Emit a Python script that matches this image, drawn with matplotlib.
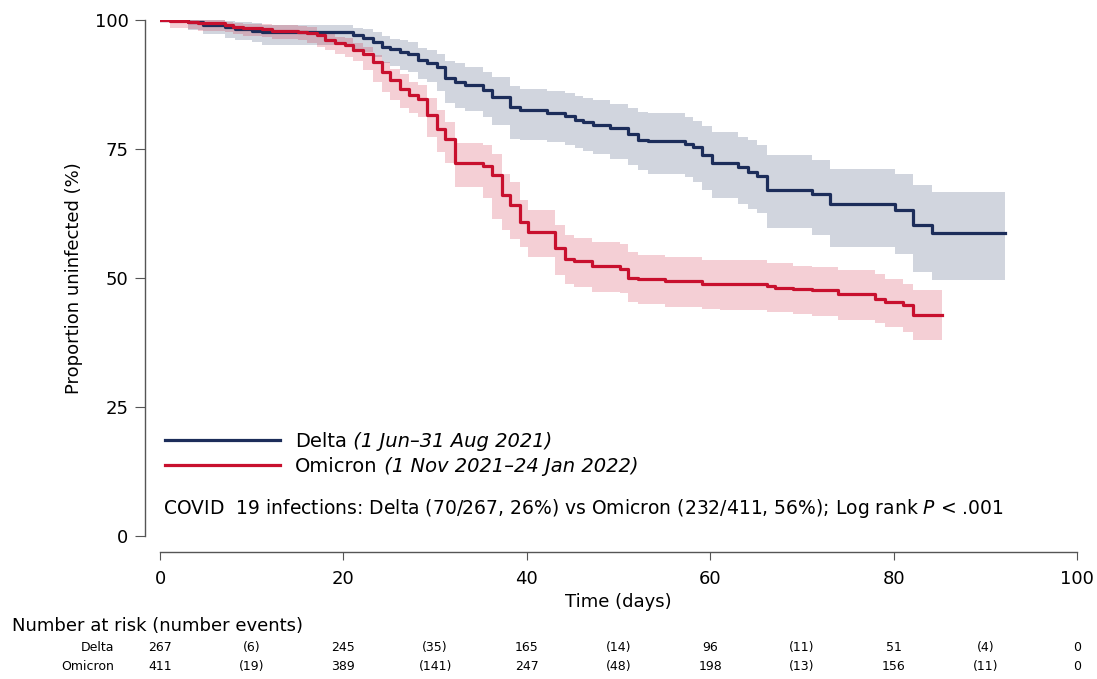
import numpy as np
import matplotlib
matplotlib.use('Agg')
import matplotlib.pyplot as plt
import matplotlib.transforms as mtransforms

plt.rcParams['font.family'] = ['DejaVu Sans']
plt.rcParams['mathtext.fontset'] = 'custom'
plt.rcParams['mathtext.rm'] = 'DejaVu Sans'
plt.rcParams['mathtext.it'] = 'DejaVu Sans:italic'

# Kaplan-Meier steps (days, % uninfected, 95% CI)
delta_t = [0, 3.05, 4.7, 7.1, 8.2, 10.0, 11.1, 21.0, 22.1, 23.2, 24.2, 25.1, 26.2, 27.0, 28.1,
           29.1, 30.2, 31.1, 32.2, 33.3, 35.2, 36.2, 38.2, 39.3, 42.2, 44.2, 45.3, 46.1, 47.2,
           49.1, 51.0, 52.1, 53.2, 57.3, 58.1, 59.1, 60.2, 63.0, 64.1, 65.1, 66.2, 71.1, 73.1,
           80.2, 82.1, 84.2]
delta_s = [100, 99.7, 99.0, 98.6, 98.3, 97.9, 97.6, 97.1, 96.6, 95.8, 94.8, 94.3, 93.8, 93.5, 92.2,
           91.7, 90.9, 88.7, 87.9, 87.4, 86.4, 85.0, 83.1, 82.5, 82.0, 81.4, 80.7, 80.2, 79.6,
           79.0, 77.9, 76.8, 76.5, 75.9, 75.3, 73.8, 72.2, 71.5, 70.5, 69.8, 67.1, 66.3, 64.3,
           63.1, 60.2, 58.7]
delta_lo = [100, 98.1, 97.3, 96.6, 96.1, 95.7, 95.1, 94.4, 93.8, 92.8, 91.6, 91.0, 90.4, 90.0, 88.5,
            87.9, 86.3, 83.9, 83.0, 82.4, 81.2, 79.6, 77.0, 76.8, 76.4, 75.7, 75.1, 74.6, 74.1,
            73.1, 71.8, 70.9, 70.2, 69.6, 68.6, 67.0, 65.4, 64.4, 63.4, 62.5, 59.6, 58.3, 56.0,
            54.6, 51.1, 49.5]
delta_hi = [100, 100, 100, 99.8, 99.7, 99.4, 99.0, 98.5, 98.2, 97.7, 96.9, 96.3, 96.1, 95.8, 94.5,
            94.1, 93.5, 92.1, 91.7, 90.9, 90.0, 88.9, 87.2, 86.7, 86.3, 85.8, 85.2, 84.8, 84.5,
            83.8, 82.9, 82.2, 81.9, 81.2, 80.4, 79.4, 78.3, 77.3, 76.7, 75.7, 73.8, 72.8, 71.2,
            70.2, 68.0, 66.7]
delta_end = 92.1

omi_t = [0, 1.1, 3.05, 4.1, 7.1, 8.0, 9.1, 11.1, 12.2, 15.0, 16.0, 17.1, 18.0, 19.1, 20.2, 21.0,
         22.1, 23.2, 24.2, 25.1, 26.2, 27.1, 28.1, 29.1, 30.2, 31.1, 32.2, 35.2, 36.2, 37.3, 38.2,
         39.3, 40.1, 43.1, 44.2, 45.1, 47.1, 50.2, 51.0, 52.1, 55.1, 59.1, 61.1, 66.2, 67.1, 69.0,
         71.1, 73.9, 78.0, 79.1, 81.0, 82.1]
omi_s = [100, 99.8, 99.7, 99.4, 99.0, 98.7, 98.4, 98.2, 97.9, 97.7, 97.4, 97.1, 96.1, 95.5, 95.1, 94.2,
         93.5, 91.9, 90.0, 88.3, 86.7, 85.4, 84.7, 81.6, 78.9, 76.9, 72.2, 71.7, 69.9, 66.0, 64.1,
         60.9, 58.9, 55.7, 53.7, 53.2, 52.3, 51.8, 50.0, 49.8, 49.4, 48.9, 48.8, 48.4, 48.1, 47.8,
         47.6, 46.9, 46.0, 45.4, 44.7, 42.8]
omi_lo = [100, 98.4, 98.2, 97.8, 97.6, 97.3, 97.0, 96.8, 96.4, 96.1, 95.5, 94.8, 94.2, 93.5, 92.9, 92.0,
          90.3, 88.0, 86.1, 84.5, 82.9, 81.9, 81.2, 77.3, 74.4, 72.2, 67.6, 65.4, 61.4, 59.2, 57.5,
          56.0, 54.0, 50.5, 48.9, 48.2, 47.2, 47.0, 45.3, 44.9, 44.3, 44.0, 43.8, 43.4, 43.3, 43.0,
          42.7, 41.9, 41.2, 40.4, 39.5, 38.0]
omi_hi = [100, 100, 100, 100, 99.7, 99.5, 99.3, 99.2, 99.0, 98.8, 98.6, 97.9, 97.3, 96.8, 96.5, 95.5,
          94.8, 93.2, 91.9, 90.6, 89.6, 88.0, 87.4, 84.8, 82.5, 80.3, 76.2, 75.7, 74.1, 70.2, 68.5,
          65.1, 63.2, 60.2, 58.4, 57.7, 56.9, 56.5, 55.0, 54.5, 54.0, 53.5, 53.4, 52.9, 52.8, 52.4,
          52.2, 51.5, 50.7, 49.8, 48.9, 47.7]
omi_end = 85.3

# number at risk / events table
risk_days = [0, 20, 40, 60, 80, 100]
event_days = [10, 30, 50, 70, 90]
delta_risk = [267, 245, 165, 96, 51, 0]
delta_events = [6, 35, 14, 11, 4]
omi_risk = [411, 389, 247, 198, 156, 0]
omi_events = [19, 141, 48, 13, 11]

delta_col = '#1c2d5a'
omi_col = '#c8102e'

fig = plt.figure(figsize=(10.97, 6.79), dpi=100)
ax = fig.add_axes([0.1459, 0.2110, 0.8359, 0.7595])


def ext(t, v, end):
    return np.r_[t, end], np.r_[v, v[-1]]


for t, s, lo, hi, end, col in [(delta_t, delta_s, delta_lo, delta_hi, delta_end, delta_col),
                               (omi_t, omi_s, omi_lo, omi_hi, omi_end, omi_col)]:
    tt, ll = ext(t, lo, end)
    _, hh = ext(t, hi, end)
    ax.fill_between(tt, ll, hh, step='post', color=col, alpha=0.2, linewidth=0)

tt, ss = ext(delta_t, delta_s, delta_end)
l1, = ax.step(tt, ss, where='post', color=delta_col, lw=2.3)
tt, ss = ext(omi_t, omi_s, omi_end)
l2, = ax.step(tt, ss, where='post', color=omi_col, lw=2.3)

ax.set_xlim(0, 100)
ax.set_ylim(0, 100)
ax.set_xticks(range(0, 101, 20))
ax.set_yticks([0, 25, 50, 75, 100])
for side in ['top', 'right']:
    ax.spines[side].set_visible(False)
ax.spines['left'].set_position(('outward', 10.8))
ax.spines['bottom'].set_position(('outward', 11.5))
for side in ['left', 'bottom']:
    ax.spines[side].set_color('#555555')
    ax.spines[side].set_linewidth(1)
ax.tick_params(axis='y', direction='out', length=7, width=0.8, color='#555555', labelsize=13, pad=5)
ax.tick_params(axis='x', direction='out', length=6, width=0.8, color='#555555', labelsize=13, pad=7)
ax.set_ylabel('Proportion uninfected (%)', fontsize=13, labelpad=8)
ax.set_xlabel('Time (days)', fontsize=13, labelpad=4)

leg = ax.legend([l1, l2], ['Delta', 'Omicron'],
                loc='upper left', bbox_to_anchor=(0.0055, 0.201), frameon=False,
                handlelength=5.9, handletextpad=0.8, borderaxespad=0, borderpad=0,
                labelspacing=0.31, fontsize=14)

ax.text(0.0033, 0.0537,
        r'COVID  19 infections: Delta (70/267, 26%) vs Omicron (232/411, 56%); Log rank $\mathit{P}$ < .001',
        transform=ax.transAxes, fontsize=13.5, va='center', ha='left')

trans = mtransforms.blended_transform_factory(ax.transData, fig.transFigure)
fig.text(0.011, 0.0781, 'Number at risk (number events)', fontsize=13, va='center', ha='left')
rows = [('Delta', delta_risk, delta_events, 0.0457), ('Omicron', omi_risk, omi_events, 0.0177)]
for name, risk, events, y in rows:
    fig.text(0.1039, y, name, fontsize=9, va='center', ha='right')
    for d, n in zip(risk_days, risk):
        ax.text(d, y, str(n), transform=trans, fontsize=9, va='center', ha='center')
    for d, n in zip(event_days, events):
        ax.text(d, y, '(%d)' % n, transform=trans, fontsize=9, va='center', ha='center')

# italic period next to each legend entry
fig.canvas.draw()
periods = [' (1 Jun–31 Aug 2021)', ' (1 Nov 2021–24 Jan 2022)']
for txt, per in zip(leg.get_texts(), periods):
    bb = txt.get_window_extent().transformed(fig.transFigure.inverted())
    fig.text(bb.x1, bb.y0, per, va='bottom', ha='left', fontsize=14, style='italic')

fig.savefig('out.png', dpi=100)
